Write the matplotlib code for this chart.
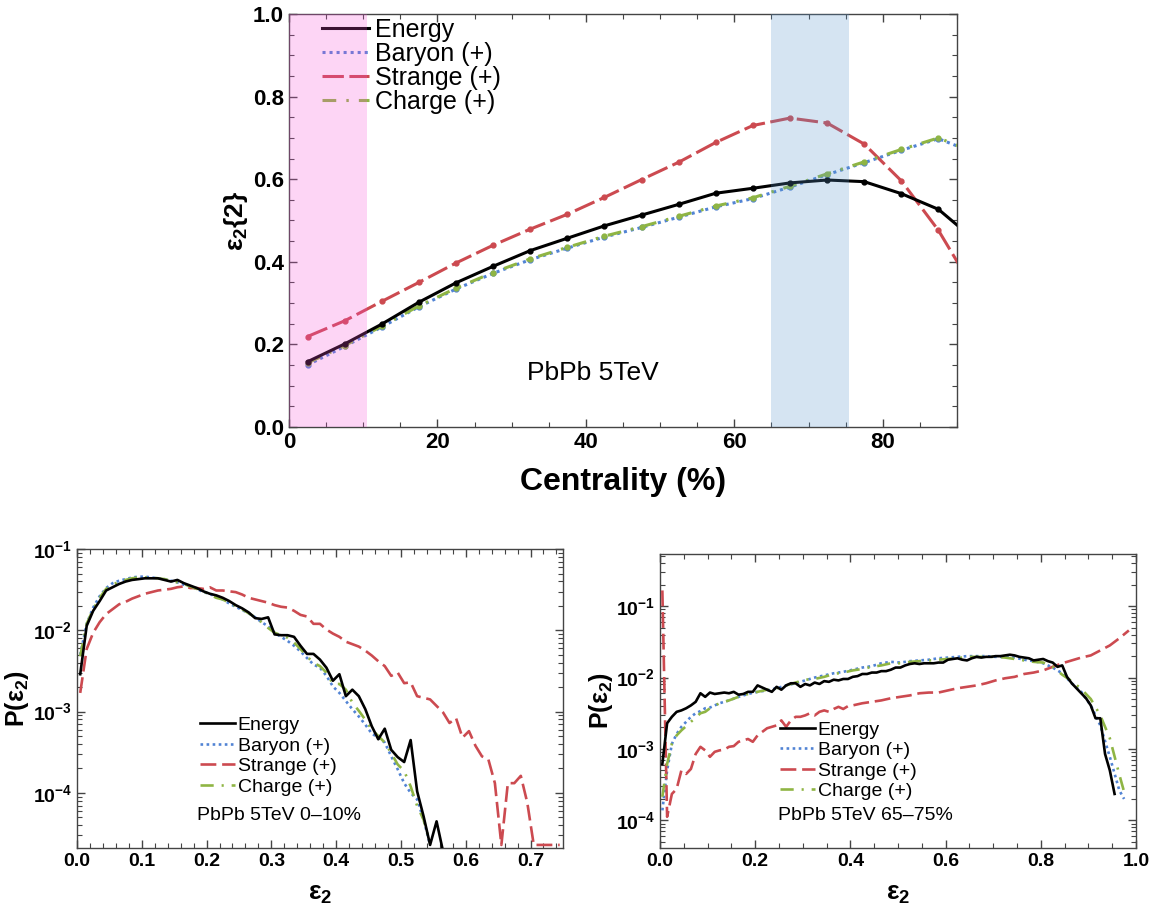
import numpy as np
import matplotlib
matplotlib.use('Agg')
import matplotlib.pyplot as plt
from matplotlib.lines import Line2D
from matplotlib.ticker import MultipleLocator, LogLocator, FuncFormatter, NullFormatter

plt.rcParams['font.family'] = ['Liberation Sans', 'DejaVu Sans']
plt.rcParams['font.weight'] = 'bold'
plt.rcParams['axes.labelweight'] = 'bold'
plt.rcParams['mathtext.fontset'] = 'custom'
plt.rcParams['mathtext.rm'] = 'Liberation Sans'
plt.rcParams['mathtext.it'] = 'Liberation Sans:italic'
plt.rcParams['mathtext.bf'] = 'Liberation Sans:bold'
plt.rcParams['mathtext.default'] = 'bf'

##### eccentricity vs centrality

centrality = [2.5, 7.5, 12.5, 17.5, 22.5, 27.5, 32.5, 37.5, 42.5, 47.5,
              52.5, 57.5, 62.5, 67.5, 72.5, 77.5, 82.5, 87.5, 92.5]
e2_energy = [0.158, 0.201, 0.249, 0.302, 0.349, 0.389, 0.427, 0.457, 0.487, 0.513,
             0.539, 0.566, 0.578, 0.591, 0.598, 0.594, 0.565, 0.527, 0.451]
e2_baryon = [0.150, 0.195, 0.242, 0.291, 0.334, 0.372, 0.405, 0.433, 0.460, 0.483,
             0.508, 0.533, 0.553, 0.581, 0.611, 0.640, 0.670, 0.698, 0.663]
e2_strange = [0.219, 0.257, 0.304, 0.350, 0.397, 0.440, 0.479, 0.515, 0.556, 0.599,
              0.641, 0.689, 0.730, 0.748, 0.736, 0.685, 0.596, 0.476, 0.326]
e2_charge = [0.155, 0.197, 0.244, 0.293, 0.336, 0.374, 0.407, 0.435, 0.462, 0.485,
             0.510, 0.535, 0.555, 0.583, 0.613, 0.642, 0.672, 0.700, 0.664]
central_band = (0, 10.5)
peripheral_band = (65, 75.5)

##### P(eps2), 0-10% (log10 of the bin contents)

left_x_energy = np.linspace(0.005, 0.565, 57)
left_lg_energy = [-2.54, -1.945, -1.76, -1.64, -1.51, -1.47, -1.43, -1.40, -1.38, -1.37,
                  -1.36, -1.36, -1.36, -1.38, -1.40, -1.38, -1.42, -1.45, -1.48, -1.52,
                  -1.55, -1.57, -1.60, -1.64, -1.69, -1.73, -1.78, -1.85, -1.86, -1.84,
                  -2.05, -2.06, -2.06, -2.08, -2.19, -2.29, -2.29, -2.36, -2.46, -2.62,
                  -2.54, -2.81, -2.73, -2.81, -2.97, -3.18, -3.34, -3.21, -3.47, -3.56,
                  -3.62, -3.35, -3.98, -4.29, -4.64, -4.35, -4.72]
left_x_bc = np.linspace(0.005, 0.545, 55)
left_lg_baryon = [-2.30, -1.92, -1.72, -1.58, -1.48, -1.42, -1.39, -1.37, -1.35, -1.34,
                  -1.34, -1.35, -1.36, -1.37, -1.39, -1.41, -1.44, -1.46, -1.49, -1.53,
                  -1.55, -1.59, -1.62, -1.67, -1.71, -1.75, -1.79, -1.84, -1.90, -1.95,
                  -2.03, -2.08, -2.13, -2.19, -2.26, -2.34, -2.42, -2.46, -2.56, -2.69,
                  -2.77, -2.87, -2.97, -3.06, -3.16, -3.27, -3.32, -3.38, -3.55, -3.71,
                  -3.88, -4.00, -4.08, -4.33, -4.64]
left_lg_charge = [-2.32, -1.92, -1.74, -1.60, -1.49, -1.44, -1.40, -1.38, -1.36, -1.35,
                  -1.35, -1.35, -1.36, -1.37, -1.39, -1.41, -1.43, -1.46, -1.49, -1.52,
                  -1.56, -1.60, -1.62, -1.66, -1.70, -1.74, -1.79, -1.84, -1.90, -1.97,
                  -2.03, -2.06, -2.09, -2.15, -2.23, -2.32, -2.40, -2.44, -2.52, -2.66,
                  -2.66, -2.73, -2.89, -2.99, -3.10, -3.22, -3.30, -3.38, -3.51, -3.65,
                  -3.73, -3.92, -4.16, -4.33, -4.62]
left_x_strange = np.linspace(0.005, 0.745, 75)
left_lg_strange = [-2.77, -2.23, -2.03, -1.90, -1.80, -1.74, -1.68, -1.65, -1.61, -1.58,
                   -1.55, -1.53, -1.51, -1.50, -1.49, -1.47, -1.46, -1.48, -1.48, -1.49,
                   -1.47, -1.51, -1.51, -1.52, -1.53, -1.56, -1.60, -1.62, -1.64, -1.66,
                   -1.69, -1.71, -1.72, -1.76, -1.81, -1.83, -1.92, -1.92, -1.99, -2.04,
                   -2.08, -2.14, -2.17, -2.20, -2.25, -2.31, -2.38, -2.44, -2.56, -2.52,
                   -2.65, -2.64, -2.81, -2.83, -2.85, -2.93, -3.01, -3.14, -3.08, -3.32,
                   -3.24, -3.42, -3.55, -3.59, -3.88, -4.64, -3.88, -3.88, -3.79, -4.12,
                   -4.64, -4.64, -4.64, -4.64, -4.64]

##### P(eps2), 65-75%

right_x_energy = np.linspace(0.005, 0.955, 96)
right_lg_energy = [-3.21, -2.64, -2.55, -2.48, -2.46, -2.43, -2.39, -2.34, -2.22, -2.27,
                   -2.21, -2.23, -2.22, -2.21, -2.22, -2.20, -2.24, -2.23, -2.20, -2.20,
                   -2.11, -2.14, -2.17, -2.20, -2.13, -2.17, -2.11, -2.08, -2.08, -2.13,
                   -2.09, -2.11, -2.07, -2.09, -2.05, -2.06, -2.03, -2.04, -2.02, -2.02,
                   -1.99, -1.98, -1.95, -1.95, -1.93, -1.93, -1.91, -1.91, -1.89, -1.86,
                   -1.86, -1.83, -1.81, -1.80, -1.81, -1.80, -1.80, -1.80, -1.79, -1.79,
                   -1.75, -1.74, -1.73, -1.75, -1.76, -1.73, -1.71, -1.72, -1.71, -1.71,
                   -1.70, -1.70, -1.69, -1.68, -1.69, -1.71, -1.72, -1.73, -1.76, -1.75,
                   -1.74, -1.77, -1.79, -1.85, -1.83, -1.99, -2.08, -2.15, -2.22, -2.29,
                   -2.39, -2.57, -2.57, -3.07, -3.30, -3.63]
right_x_bc = np.concatenate([np.linspace(0.005, 0.105, 11),
                             np.linspace(0.125, 0.965, 43), [0.975]])
right_lg_baryon = [-3.86, -3.30, -2.93, -2.79, -2.69, -2.62, -2.55, -2.50, -2.47, -2.43,
                   -2.42, -2.36, -2.32, -2.27, -2.23, -2.20, -2.18, -2.15, -2.11, -2.08,
                   -2.04, -2.00, -1.97, -1.94, -1.92, -1.89, -1.86, -1.84, -1.80, -1.78,
                   -1.79, -1.77, -1.76, -1.75, -1.73, -1.72, -1.71, -1.70, -1.70, -1.70,
                   -1.71, -1.71, -1.72, -1.75, -1.77, -1.80, -1.86, -1.94, -2.08, -2.20,
                   -2.39, -2.67, -3.11, -3.58, -3.70]
right_lg_charge = [-3.67, -3.21, -2.93, -2.81, -2.74, -2.68, -2.62, -2.56, -2.50, -2.48,
                   -2.43, -2.36, -2.32, -2.27, -2.23, -2.20, -2.17, -2.15, -2.11, -2.07,
                   -2.03, -2.02, -1.99, -1.95, -1.93, -1.90, -1.88, -1.85, -1.83, -1.80,
                   -1.80, -1.78, -1.77, -1.76, -1.75, -1.74, -1.73, -1.71, -1.71, -1.71,
                   -1.71, -1.72, -1.74, -1.76, -1.78, -1.79, -1.85, -1.96, -2.05, -2.16,
                   -2.30, -2.53, -2.85, -3.36, -3.60]
right_x_strange = np.concatenate([np.linspace(0.005, 0.405, 41), np.linspace(0.425, 0.985, 29)])
right_lg_strange = [-0.78, -3.95, -3.63, -3.56, -3.30, -3.35, -3.28, -3.07, -2.97, -3.02,
                    -3.11, -3.04, -3.02, -3.01, -2.97, -2.96, -2.90, -2.88, -2.86, -2.90,
                    -2.81, -2.76, -2.71, -2.69, -2.67, -2.60, -2.69, -2.60, -2.55, -2.55,
                    -2.53, -2.50, -2.53, -2.48, -2.46, -2.48, -2.44, -2.41, -2.44, -2.40,
                    -2.39, -2.36, -2.34, -2.32, -2.29, -2.27, -2.25, -2.22, -2.21, -2.21,
                    -2.18, -2.15, -2.13, -2.11, -2.08, -2.04, -2.01, -1.99, -1.95, -1.93,
                    -1.90, -1.85, -1.80, -1.76, -1.72, -1.69, -1.62, -1.55, -1.45, -1.34]

labels = ['Energy', 'Baryon (+)', 'Strange (+)', 'Charge (+)']
colors = ['black', '#5183d4', '#cc4a50', '#8fb544']
dashes = [None, (1, 1.3), (7, 1.8), (4.5, 3.3, 0.8, 3.3)]
dashes_small = [None, (1, 1.3), (6, 2.2), (5, 3, 0.8, 3)]


def make_handles(lw, dash_set):
    hs = []
    for i in range(4):
        h = Line2D([], [], color=colors[i], lw=lw)
        if dash_set[i] is not None:
            h.set_dashes(dash_set[i])
        hs.append(h)
    return hs


def frame_ticks(ax):
    ax.tick_params(which='both', direction='in', top=True, right=True, color='#444444')
    ax.tick_params(which='major', length=6, width=1)
    ax.tick_params(which='minor', length=3.5, width=0.8)
    for sp in ax.spines.values():
        sp.set_color('#444444')
        sp.set_linewidth(1)


def pow10(v, pos):
    return r'$10^{%d}$' % int(round(np.log10(v)))


fig = plt.figure(figsize=(11.54, 9.09), dpi=100)

##### top panel

ax = fig.add_axes([0.2504, 0.5303, 0.5789, 0.4543])
series = [e2_energy, e2_baryon, e2_strange, e2_charge]
for i, ys in enumerate(series):
    ln, = ax.plot(centrality, ys, color=colors[i], lw=2.2, marker='o', ms=3.5,
                  zorder=3 + (i == 0))
    if dashes[i] is not None:
        ln.set_dashes(dashes[i])
# translucent bands sit on top of the curves and the legend keys
ax.axvspan(*central_band, color=(0.97, 0.32, 0.85), alpha=0.24, lw=0, zorder=8)
ax.axvspan(*peripheral_band, color=(0.356, 0.592, 0.812), alpha=0.25, lw=0, zorder=8)
ax.set_xlim(0, 90)
ax.set_ylim(0, 1)
ax.xaxis.set_major_locator(MultipleLocator(20))
ax.xaxis.set_minor_locator(MultipleLocator(5))
ax.yaxis.set_major_locator(MultipleLocator(0.2))
ax.yaxis.set_minor_locator(MultipleLocator(0.05))
ax.yaxis.set_major_formatter(FuncFormatter(lambda v, p: f'{v:.1f}'))
ax.tick_params(labelsize=16)
frame_ticks(ax)
ax.set_xlabel('Centrality (%)', fontsize=23, labelpad=10)
ax.set_ylabel(r'$\epsilon_2\{2\}$', fontsize=19, labelpad=2)
ax.text(41, 0.131, 'PbPb 5TeV', fontsize=19, fontweight='normal', ha='center', va='center')
leg = ax.legend(make_handles(2.2, dashes), labels, loc='upper left',
                bbox_to_anchor=(0.049, 0.99), frameon=False,
                prop={'size': 18, 'weight': 'normal'}, handlelength=1.9,
                handletextpad=0.25, labelspacing=0.0, borderaxespad=0, borderpad=0)
leg.set_zorder(5)


def bottom_panel(rect, xs, lgs, xlim, ylim, xmajor, xminor, leg_anchor, note, note_xy):
    ax = fig.add_axes(rect)
    for i in range(4):
        ln, = ax.plot(xs[i], np.power(10.0, lgs[i]), color=colors[i], lw=1.9,
                      zorder=3 + (i == 0))
        if dashes_small[i] is not None:
            ln.set_dashes(dashes_small[i])
    ax.set_yscale('log')
    ax.set_xlim(*xlim)
    ax.set_ylim(*ylim)
    ax.xaxis.set_major_locator(MultipleLocator(xmajor))
    ax.xaxis.set_minor_locator(MultipleLocator(xminor))
    ax.xaxis.set_major_formatter(FuncFormatter(lambda v, p: f'{v:.1f}'))
    ax.yaxis.set_major_locator(LogLocator(base=10, numticks=10))
    ax.yaxis.set_minor_locator(LogLocator(base=10, subs=np.arange(2, 10), numticks=10))
    ax.yaxis.set_major_formatter(FuncFormatter(pow10))
    ax.yaxis.set_minor_formatter(NullFormatter())
    ax.tick_params(labelsize=14)
    frame_ticks(ax)
    ax.set_xlabel(r'$\epsilon_2$', fontsize=19, labelpad=9)
    ax.set_ylabel(r'$P(\epsilon_2)$', fontsize=18)
    ax.yaxis.set_label_coords(-0.094, 0.5)
    ax.legend(make_handles(1.9, dashes_small), labels, loc='upper left',
              bbox_to_anchor=leg_anchor, frameon=False,
              prop={'size': 14, 'weight': 'normal'}, handlelength=1.8,
              handletextpad=0.15, labelspacing=0.15, borderaxespad=0, borderpad=0)
    ax.text(*note_xy, note, transform=ax.transAxes, fontsize=14, fontweight='normal',
            ha='left', va='center')
    return ax


bottom_panel([0.0667, 0.0671, 0.4211, 0.3289],
             [left_x_energy, left_x_bc, left_x_strange, left_x_bc],
             [left_lg_energy, left_lg_baryon, left_lg_strange, left_lg_charge],
             (0, 0.75), (2.1e-5, 1e-1), 0.1, 0.02, (0.253, 0.44),
             'PbPb 5TeV 0\u201310%', (0.248, 0.11))

bottom_panel([0.5719, 0.0671, 0.4125, 0.3234],
             [right_x_energy, right_x_bc, right_x_strange, right_x_bc],
             [right_lg_energy, right_lg_baryon, right_lg_strange, right_lg_charge],
             (0, 1.0), (4.1e-5, 0.537), 0.2, 0.05, (0.252, 0.432),
             'PbPb 5TeV 65\u201375%', (0.248, 0.112))

fig.savefig('out.png', dpi=100)
